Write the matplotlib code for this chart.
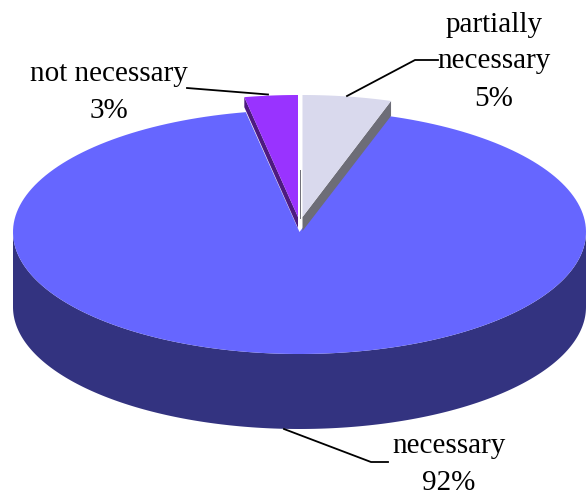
import numpy as np
import matplotlib
matplotlib.use('Agg')
import matplotlib.pyplot as plt

# Shares of the answers, clockwise from twelve o'clock
labels = ['partially\nnecessary', 'necessary', 'not necessary']
shares = [5, 92, 3]

RX, RY = 286.5, 122.0
CX, CY = 299.5, 232.0
DEPTH = 75.0
LIFT = 15.0  # how far the two small slices are pulled out


def arc(start, end, cx=CX, cy=CY, n=200):
    # angles in percent of the pie, clockwise from the top
    t = np.radians(np.linspace(start, end, n) * 3.6)
    return cx + RX * np.sin(t), cy - RY * np.cos(t)


def sector(start, end, cx=CX, cy=CY):
    x, y = arc(start, end, cx, cy)
    return np.r_[cx, x], np.r_[cy, y]


fig = plt.figure(figsize=(5.87, 4.95), dpi=100)
ax = fig.add_axes([0, 0, 1, 1])
ax.set_xlim(0, 587)
ax.set_ylim(495, 0)
ax.axis('off')

p_share, n_share, u_share = shares

# rim of the big slice, only the front half shows
x, y = arc(25, 75)
ax.fill(np.r_[x, x[::-1]], np.r_[y, y[::-1] + DEPTH], color='#333380', lw=0)

# top of the big slice
x, y = sector(p_share, p_share + n_share)
ax.fill(x, y, color='#6666FF', lw=0)

# partially necessary, lifted slice with its cut face
px, py = CX + 3, CY - LIFT
ex, ey = arc(p_share, p_share, px, py, n=1)
ax.fill([px, ex[0], ex[0], px], [py, ey[0], ey[0] + 15, py + 14], color='#6D6D77', lw=0)
x, y = sector(0, p_share, px, py)
ax.fill(x, y, color='#D9D9ED', lw=0)

# not necessary, lifted slice with its cut face
ux, uy = CX - 1.5, CY - LIFT
ex, ey = arc(100 - u_share, 100 - u_share, ux, uy, n=1)
ax.fill([ux, ex[0], ex[0], ux], [uy, ey[0], ey[0] + 10, uy + 11], color='#4D1A80', lw=0)
x, y = sector(100 - u_share, 100, ux, uy)
ax.fill(x, y, color='#9933FF', lw=0)

# thin seam between the two lifted slices
ax.plot([299.5, 299.5], [170, 218], color='#6D6D77', lw=0.7)

# leader lines
ax.plot([438, 415, 347], [60, 60, 96], color='black', lw=1.3)
ax.plot([187, 268], [88, 94.5], color='black', lw=1.3)
ax.plot([388, 371, 284], [462, 462, 429], color='black', lw=1.3)

font = dict(family='Liberation Serif', fontsize=21, color='black', ha='center', va='center', linespacing=1.55)
ax.text(494, 61.5, f'{labels[0]}\n{p_share}%', **font)
ax.text(449, 464.5, f'{labels[1]}\n{n_share}%', **font)
ax.text(109, 92.5, f'{labels[2]}\n{u_share}%', **font)

fig.savefig('out.png', dpi=100)
